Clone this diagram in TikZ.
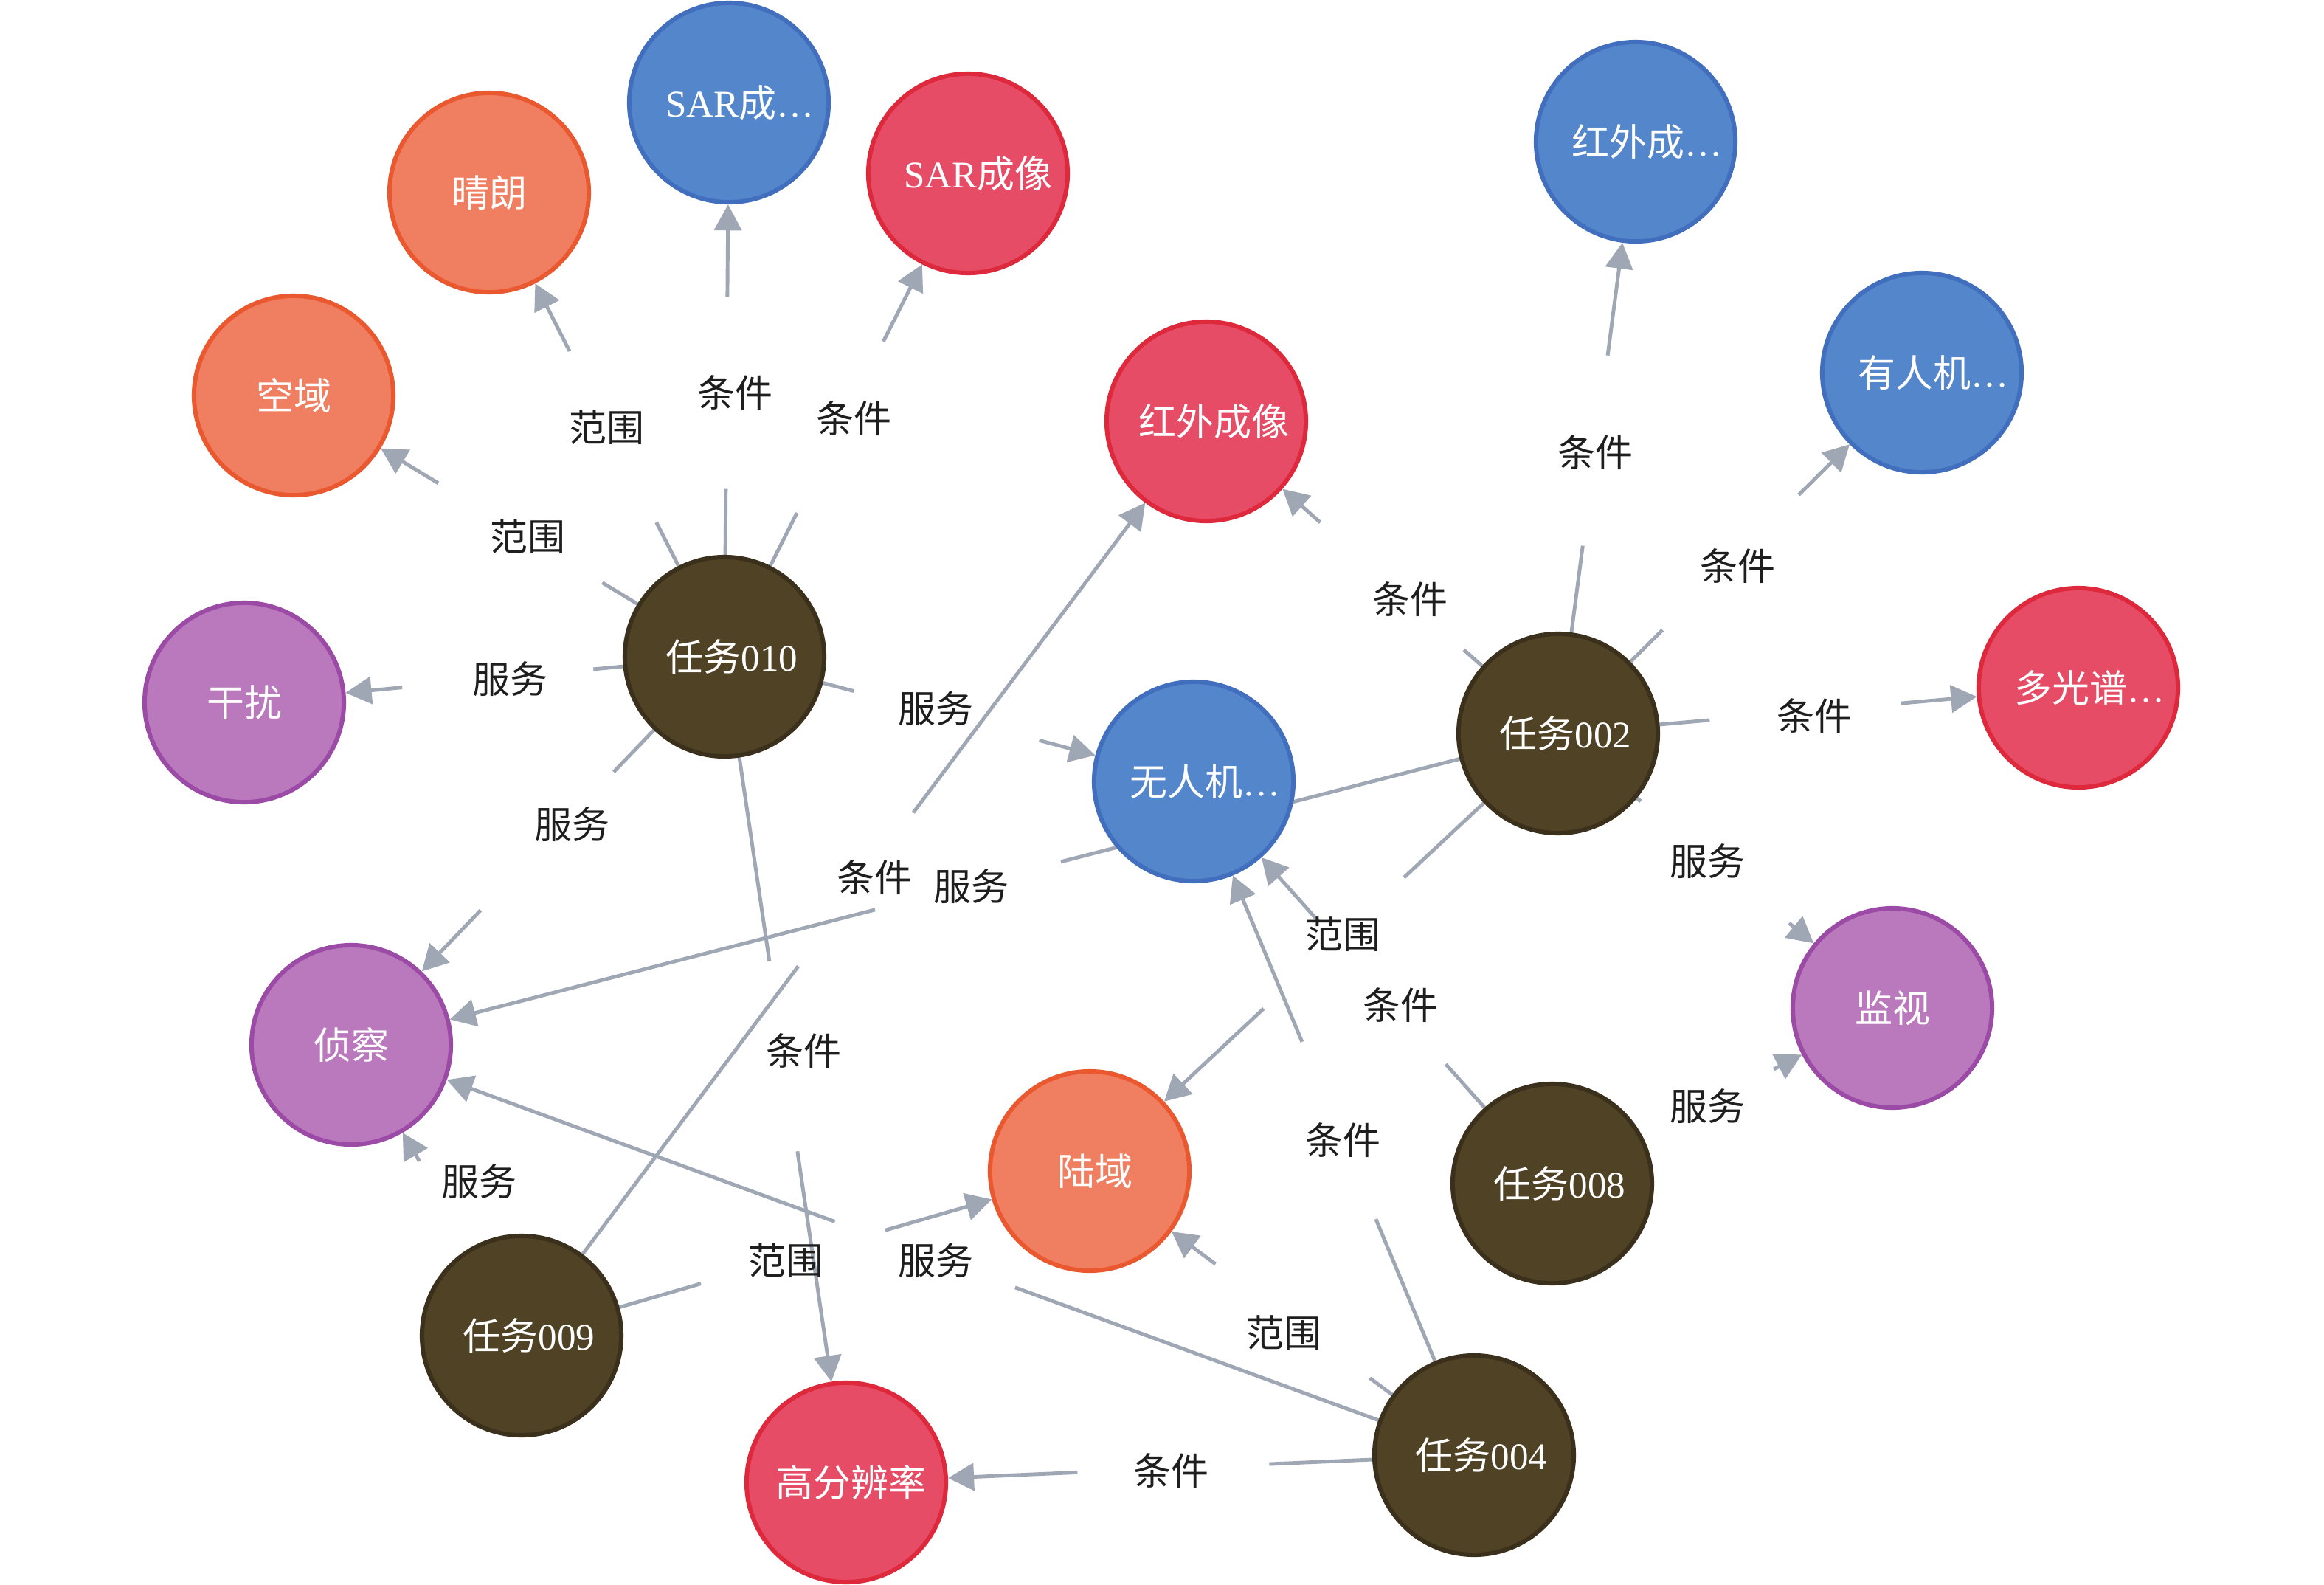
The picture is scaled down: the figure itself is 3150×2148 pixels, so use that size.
\documentclass[tikz,border=0pt]{standalone}
\usepackage{fontspec}
\setmainfont{Liberation Serif}
\newfontfamily\cjk{Noto Sans CJK SC}
\usetikzlibrary{arrows.meta,calc}
\pgfdeclarelayer{edgelayer}
\pgfsetlayers{edgelayer,main}
\definecolor{lnk}{HTML}{A0A7B4}
\definecolor{brF}{HTML}{504224}
\definecolor{brD}{HTML}{3A301C}
\definecolor{blF}{HTML}{5486CC}
\definecolor{blD}{HTML}{426EBE}
\definecolor{rdF}{HTML}{E64C66}
\definecolor{rdD}{HTML}{DE283C}
\definecolor{orF}{HTML}{F07E60}
\definecolor{orD}{HTML}{EA5830}
\definecolor{puF}{HTML}{B979BC}
\definecolor{puD}{HTML}{9B4BA5}
\definecolor{lbltxt}{HTML}{1E1E1E}
\newcommand{\myrel}[6]{%
  \node[gapnode] (g#1) at ($(#2)!#4!(#3)$) {};
  \node[lbl] (t#1) at (#5) {#6};
  \begin{pgfonlayer}{edgelayer}
    \draw[link] (#2) -- (g#1);
    \draw[linka] (g#1) -- (#3);
  \end{pgfonlayer}%
}
\newcommand{\sh}[1]{\kern#1}
\begin{document}
\begin{tikzpicture}[x=0.01cm,y=-0.01cm,
  ent/.style={circle, minimum size=2.7cm, inner sep=0pt, line width=1.7pt, text=white, font=\fontsize{14.5pt}{17pt}\selectfont},
  nbrown/.style={ent, fill=brF, draw=brD},
  nblue/.style={ent, fill=blF, draw=blD},
  nred/.style={ent, fill=rdF, draw=rdD},
  norange/.style={ent, fill=orF, draw=orD},
  npurple/.style={ent, fill=puF, draw=puD},
  gapnode/.style={circle, minimum size=2.6cm, inner sep=0pt, outer sep=0pt},
  lbl/.style={inner sep=0pt, text=lbltxt, font=\cjk\fontsize{14.5pt}{17pt}\selectfont},
  link/.style={draw=lnk, line width=1.4pt},
  linka/.style={link, -{Triangle[length=10pt,width=10.5pt]}}
]
\begin{pgfonlayer}{edgelayer}
\fill[white] (0,0) rectangle (3150,2148);
\end{pgfonlayer}
\path[use as bounding box] (0,0) rectangle (3150,2148);

\node[nbrown] (T010) at (982,890) {\sh{0.2cm}{\cjk 任务}010};
\node[nbrown] (T002) at (2112,994) {\sh{0.2cm}{\cjk 任务}002};
\node[nbrown] (T008) at (2104,1604) {\sh{0.2cm}{\cjk 任务}008};
\node[nbrown] (T009) at (707,1810) {\sh{0.2cm}{\cjk 任务}009};
\node[nbrown] (T004) at (1998,1972) {\sh{0.2cm}{\cjk 任务}004};
\node[nblue] (SARC) at (988,139) {\sh{0.3cm}SAR{\cjk 成}…};
\node[nred] (SARX) at (1312,235) {\sh{0.28cm}SAR{\cjk 成像}};
\node[norange] (QL) at (663,261) {\cjk 晴朗};
\node[norange] (KY) at (398,536) {\cjk 空域};
\node[npurple] (GR) at (331,952) {\cjk 干扰};
\node[nred] (HWX) at (1635,571) {\sh{0.2cm}{\cjk 红外成像}};
\node[nblue] (HWC) at (2217,192) {\sh{0.3cm}{\cjk 红外成}…};
\node[nblue] (YRJ) at (2605,505) {\sh{0.3cm}{\cjk 有人机}…};
\node[nred] (DGP) at (2817,932) {\sh{0.3cm}{\cjk 多光谱}…};
\node[nblue] (WRJ) at (1618,1059) {\sh{0.3cm}{\cjk 无人机}…};
\node[npurple] (JS) at (2565,1366) {\cjk 监视};
\node[npurple] (ZC) at (476,1416) {\cjk 侦察};
\node[norange] (LY) at (1477,1587) {\sh{0.15cm}{\cjk 陆域}};
\node[nred] (GFB) at (1147,2009) {\sh{0.12cm}{\cjk 高分辨率}};

\myrel{a}{T010}{QL}{0.474}{822,579}{范围}
\myrel{b}{T010}{SARC}{0.476}{996,532}{条件}
\myrel{c}{T010}{SARX}{0.475}{1157,567}{条件}
\myrel{d}{T010}{KY}{0.474}{715,727}{范围}
\myrel{e}{T010}{GR}{0.472}{691,920}{服务}
\myrel{f}{T010}{ZC}{0.475}{775,1117}{服务}
\myrel{g}{T010}{WRJ}{0.473}{1268,960}{服务}
\myrel{h}{T010}{GFB}{0.484}{1089,1424}{条件}
\myrel{i}{T002}{HWC}{0.478}{2162,613}{条件}
\myrel{j}{T002}{YRJ}{0.474}{2355,767}{条件}
\myrel{k}{T002}{HWX}{0.472}{1911,812}{条件}
\myrel{l}{T002}{DGP}{0.475}{2459,970}{条件}
\myrel{m}{T002}{JS}{0.469}{2314,1167}{服务}
\myrel{n}{T002}{ZC}{0.489}{1316,1201}{服务}
\myrel{o}{T002}{LY}{0.479}{1820,1266}{范围}
\myrel{p}{T008}{WRJ}{0.475}{1898,1362}{条件}
\myrel{q}{T008}{JS}{0.40}{2314,1499}{服务}
\myrel{r}{T004}{WRJ}{0.482}{1820,1545}{条件}
\myrel{s}{T004}{LY}{0.472}{1740,1806}{范围}
\myrel{t}{T004}{GFB}{0.479}{1587,1993}{条件}
\myrel{u}{T004}{ZC}{0.489}{1268,1708}{服务}
\myrel{v}{T009}{HWX}{0.488}{1185,1189}{条件}
\myrel{w}{T009}{LY}{0.478}{1065,1708}{范围}
\myrel{x}{T009}{ZC}{0.315}{649,1601}{服务}
\end{tikzpicture}
\end{document}
